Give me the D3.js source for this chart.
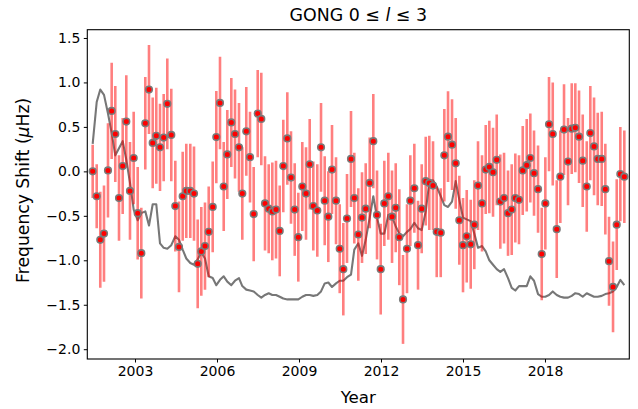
<!DOCTYPE html>
<html>
<head>
<meta charset="utf-8">
<script src="https://cdn.jsdelivr.net/npm/d3@7"></script>
<style>
  html, body { margin: 0; padding: 0; background: #fff; }
  svg { display: block; font-family: "DejaVu Sans", sans-serif; }
</style>
</head>
<body>
<svg id="chart" width="638" height="409"></svg>
<script>
// ---- data ----
const years = [2001.452, 2001.599, 2001.730, 2001.866, 2002.012, 2002.147, 2002.279, 2002.415, 2002.550, 2002.682, 2002.817, 2002.952, 2003.099, 2003.231, 2003.377, 2003.512, 2003.648, 2003.779, 2003.915, 2004.050, 2004.182, 2004.328, 2004.475, 2004.610, 2004.745, 2004.877, 2005.023, 2005.159, 2005.294, 2005.426, 2005.561, 2005.697, 2005.843, 2005.975, 2006.110, 2006.246, 2006.377, 2006.524, 2006.659, 2006.805, 2006.926, 2007.072, 2007.208, 2007.343, 2007.490, 2007.621, 2007.757, 2007.892, 2008.024, 2008.159, 2008.295, 2008.426, 2008.573, 2008.708, 2008.843, 2008.975, 2009.121, 2009.257, 2009.392, 2009.524, 2009.670, 2009.806, 2009.941, 2010.073, 2010.208, 2010.355, 2010.490, 2010.622, 2010.757, 2010.903, 2011.024, 2011.170, 2011.306, 2011.441, 2011.588, 2011.719, 2011.855, 2011.990, 2012.122, 2012.268, 2012.404, 2012.539, 2012.671, 2012.806, 2012.952, 2013.073, 2013.220, 2013.355, 2013.490, 2013.637, 2013.768, 2013.904, 2014.039, 2014.186, 2014.317, 2014.453, 2014.599, 2014.734, 2014.866, 2015.001, 2015.137, 2015.283, 2015.415, 2015.550, 2015.697, 2015.832, 2015.964, 2016.099, 2016.234, 2016.366, 2016.502, 2016.648, 2016.783, 2016.915, 2017.050, 2017.186, 2017.332, 2017.464, 2017.599, 2017.746, 2017.881, 2018.013, 2018.148, 2018.284, 2018.430, 2018.562, 2018.697, 2018.843, 2018.979, 2019.110, 2019.246, 2019.381, 2019.528, 2019.659, 2019.795, 2019.930, 2020.076, 2020.208, 2020.343, 2020.490, 2020.625, 2020.757, 2020.903];

const shifts = [0.00, -0.28, -0.77, -0.70, 0.01, 0.68, 0.42, -0.30, 0.06, 0.56, -0.22, 0.15, -0.47, -0.92, 0.54, 0.92, 0.32, 0.40, 0.27, 0.38, 0.76, 0.41, -0.39, -0.85, -0.28, -0.22, -0.22, -0.25, -1.04, -0.90, -0.84, -0.68, -0.40, 0.385, 0.77,
  -0.17, 0.19, 0.55, 0.42, 0.27, -0.25, 0.45, 0.16, -0.48, 0.65, 0.59, -0.36, -0.42, -0.45, -0.43, -0.67, 0.06, 0.37, -0.07, -0.43, -0.74, -0.17, -0.25, 0.08, -0.39, -0.44, 0.27, -0.33, -0.51, 0.02, -0.33, -0.87, -1.10, -0.53,
  0.14, -0.30, -0.71, -0.52, -0.42, -0.13, 0.34, -0.49, -1.10, -0.36, -0.28, -0.51, -0.41, -0.74, -1.44, -0.87, -0.33, -0.19, -0.83, -0.42, -0.11, -0.13, -0.16, -0.68, -0.69, 0.18, 0.39, 0.30, 0.09, -0.55, -0.83, -0.73, -0.82,
  -0.60, -0.16, -0.36, 0.02, 0.05, -0.01, 0.13, -0.34, -0.30, -0.47, -0.43, -0.30, -0.32, 0.01, 0.07, 0.15, -0.02, -0.20, -0.93, -0.36, 0.53, 0.42, -0.65, -0.06, 0.47, 0.11, 0.48, 0.49, 0.39, 0.12, -0.17, 0.43, 0.28, 0.14, 0.14, -0.20, -1.01, -1.30, -0.60, -0.03, -0.06];

const shiftErrors = [0.30, 0.36, 0.54, 0.54, 0.53, 0.54, 0.54, 0.48, 0.54, 0.52, 0.55, 0.52, 0.52, 0.51, 0.52, 0.50, 0.51, 0.54, 0.49, 0.49, 0.51, 0.52, 0.51, 0.51, 0.50, 0.53, 0.53, 0.53, 0.50, 0.50, 0.49, 0.51, 0.51, 0.52, 0.52,
  0.50, 0.50, 0.50, 0.50, 0.50, 0.52, 0.50, 0.51, 0.53, 0.49, 0.52, 0.53, 0.50, 0.55, 0.55, 0.51, 0.52, 0.52, 0.52, 0.52, 0.50, 0.50, 0.52, 0.51, 0.50, 0.52, 0.50, 0.50, 0.51, 0.50, 0.49, 0.50, 0.52, 0.50,
  0.54, 0.51, 0.52, 0.51, 0.51, 0.51, 0.53, 0.50, 0.51, 0.48, 0.49, 0.52, 0.50, 0.54, 0.50, 0.50, 0.51, 0.50, 0.50, 0.50, 0.50, 0.53, 0.50, 0.51, 0.50, 0.52, 0.51, 0.51, 0.51, 0.50, 0.53, 0.52, 0.50,
  0.50, 0.50, 0.54, 0.50, 0.52, 0.50, 0.51, 0.53, 0.51, 0.48, 0.51, 0.50, 0.50, 0.50, 0.52, 0.50, 0.48, 0.49, 0.52, 0.52, 0.53, 0.58, 0.55, 0.52, 0.51, 0.49, 0.51, 0.50, 0.52, 0.52, 0.51, 0.53, 0.55, 0.52, 0.53, 0.51, 0.50, 0.51, 0.51, 0.53, 0.52];

// grey curve (scaled activity proxy), same epochs
const activityScaled = [0.31, 0.78, 0.92, 0.86, 0.65, 0.43, 0.18, 0.26, 0.34, 0.13, -0.13, -0.43, -0.55, -0.47, -0.45, -0.61, -0.37, -0.37, -0.81, -0.86, -0.87, -0.83, -0.73, -0.77, -0.88, -0.98, -1.03, -1.05, -0.99, -0.91, -0.98, -1.18, -1.20, -1.28, -1.22,
  -1.18, -1.24, -1.28, -1.23, -1.20, -1.29, -1.33, -1.34, -1.35, -1.39, -1.42, -1.39, -1.37, -1.39, -1.39, -1.41, -1.43, -1.44, -1.44, -1.44, -1.44, -1.41, -1.39, -1.39, -1.40, -1.39, -1.35, -1.26, -1.25, -1.30, -1.26, -1.23, -1.23, -1.19,
  -1.16, -0.88, -0.81, -0.95, -0.77, -0.52, -0.28, -0.52, -0.70, -0.70, -0.49, -0.51, -0.62, -0.70, -0.73, -0.68, -0.65, -0.58, -0.64, -0.66, -0.45, -0.12, -0.10, -0.17, -0.28, -0.38, -0.40, -0.34, -0.11, -0.32, -0.52, -0.54, -0.56,
  -0.70, -0.86, -0.84, -0.90, -1.00, -1.05, -1.10, -1.13, -1.10, -1.20, -1.31, -1.34, -1.29, -1.29, -1.29, -1.18, -1.23, -1.38, -1.41, -1.41, -1.39, -1.35, -1.39, -1.41, -1.42, -1.42, -1.40, -1.37, -1.38, -1.41, -1.37, -1.39, -1.41, -1.41, -1.40, -1.38, -1.37, -1.35, -1.30, -1.22, -1.28];

const xTicks = [2003, 2006, 2009, 2012, 2015, 2018];
const yTicks = [-2.0, -1.5, -1.0, -0.5, 0.0, 0.5, 1.0, 1.5];
const xDomain = [2001.255, 2021.085];
const yDomain = [-2.11, 1.593];

// ---- layout ----
const svg = d3.select("#chart");
const plotLeft = 87.3, plotRight = 629.3, plotTop = 29.7, plotBottom = 359;

const x = d3.scaleLinear().domain(xDomain).range([plotLeft, plotRight]);
const y = d3.scaleLinear().domain(yDomain).range([plotBottom, plotTop]);

const data = years.map((t, i) => ({ t, v: shifts[i], e: shiftErrors[i], a: activityScaled[i] }));

svg.append("defs").append("clipPath").attr("id", "plotclip")
  .append("rect").attr("x", plotLeft).attr("y", plotTop)
  .attr("width", plotRight - plotLeft).attr("height", plotBottom - plotTop);

const plot = svg.append("g").attr("clip-path", "url(#plotclip)");

// grey curve
plot.append("path")
  .datum(data)
  .attr("fill", "none")
  .attr("stroke", "#777777")
  .attr("stroke-width", 2.1)
  .attr("stroke-linejoin", "round")
  .attr("d", d3.line().x(d => x(d.t)).y(d => y(d.a)));

// error bars
plot.append("g").selectAll("line").data(data).join("line")
  .attr("x1", d => x(d.t)).attr("x2", d => x(d.t))
  .attr("y1", d => y(d.v - d.e)).attr("y2", d => y(d.v + d.e))
  .attr("stroke", "rgba(255,0,0,0.5)")
  .attr("stroke-width", 2.6);

// points
plot.append("g").selectAll("circle").data(data).join("circle")
  .attr("cx", d => x(d.t)).attr("cy", d => y(d.v))
  .attr("r", 3.3)
  .attr("fill", "#ff0000")
  .attr("stroke", "#7a7a7a")
  .attr("stroke-width", 1.6);

// axes
const fmtY = v => (v < 0 ? "\u2212" : "") + Math.abs(v).toFixed(1);
const xAxis = d3.axisBottom(x).tickValues(xTicks).tickFormat(d3.format("d")).tickSizeOuter(0).tickSize(3.5).tickPadding(3.5);
const yAxis = d3.axisLeft(y).tickValues(yTicks).tickFormat(fmtY).tickSizeOuter(0).tickSize(3.5).tickPadding(3.5);

const gx = svg.append("g").attr("transform", `translate(0,${plotBottom})`).call(xAxis);
const gy = svg.append("g").attr("transform", `translate(${plotLeft},0)`).call(yAxis);
[gx, gy].forEach(g => {
  g.select(".domain").remove();
  g.selectAll(".tick line").attr("stroke", "#000").attr("stroke-width", 1);
  g.selectAll(".tick text").attr("fill", "#000").style("font-size", "14px").style("font-family", "DejaVu Sans");
});

// frame
svg.append("rect")
  .attr("x", plotLeft).attr("y", plotTop)
  .attr("width", plotRight - plotLeft).attr("height", plotBottom - plotTop)
  .attr("fill", "none").attr("stroke", "#000").attr("stroke-width", 1.1);

// title
const title = svg.append("text")
  .attr("x", (plotLeft + plotRight) / 2).attr("y", 20.5)
  .attr("text-anchor", "middle")
  .style("font-size", "17.4px").attr("fill", "#000");
title.append("tspan").text("GONG 0 \u2264 ");
title.append("tspan").style("font-style", "italic").text("l");
title.append("tspan").text(" \u2264 3");

// x label
svg.append("text")
  .attr("x", (plotLeft + plotRight) / 2).attr("y", 403)
  .attr("text-anchor", "middle")
  .style("font-size", "16.7px").attr("fill", "#000")
  .text("Year");

// y label
const yl = svg.append("text")
  .attr("transform", `translate(29,${(plotTop + plotBottom) / 2 - 4}) rotate(-90)`)
  .attr("text-anchor", "middle")
  .style("font-size", "17.2px").attr("fill", "#000");
yl.append("tspan").text("Frequency Shift (");
yl.append("tspan").style("font-style", "italic").text("\u03bc");
yl.append("tspan").text("Hz)");
</script>
</body>
</html>
